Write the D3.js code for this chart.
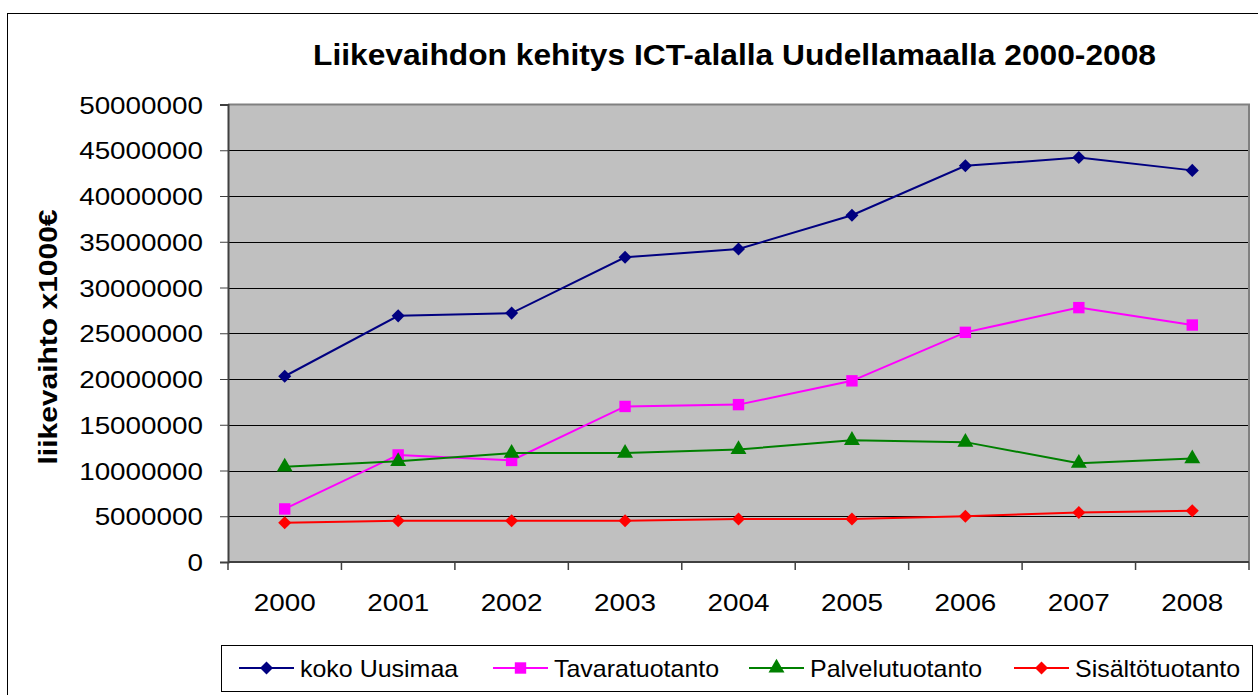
<!DOCTYPE html>
<html>
<head>
<meta charset="utf-8">
<script src="https://cdn.jsdelivr.net/npm/d3@7"></script>
<style>
  body { margin: 0; background: #fff; }
  svg { display: block; font-family: Arial, "Liberation Sans", sans-serif; }
</style>
</head>
<body>
<script>
// data
const years = ["2000", "2001", "2002", "2003", "2004", "2005", "2006", "2007", "2008"];
const kokoUusimaa = [20300000, 26900000, 27200000, 33300000, 34200000, 37900000, 43300000, 44200000, 42800000];
const tavaratuotanto = [5800000, 11700000, 11100000, 17000000, 17200000, 19800000, 25100000, 27800000, 25900000];
const palvelutuotanto = [10400000, 11000000, 11900000, 11900000, 12300000, 13300000, 13100000, 10800000, 11300000];
const sisaltotuotanto = [4300000, 4500000, 4500000, 4500000, 4700000, 4700000, 5000000, 5400000, 5600000];
const seriesNames = ["koko Uusimaa", "Tavaratuotanto", "Palvelutuotanto", "Sisältötuotanto"];
const yTicks = [0, 5000000, 10000000, 15000000, 20000000, 25000000, 30000000, 35000000, 40000000, 45000000, 50000000];

const colors = ["#000080", "#FF00FF", "#008000", "#FF0000"];
// diamond = square turned 45deg
const shapes = [d3.symbolSquare, d3.symbolSquare, d3.symbolTriangle, d3.symbolSquare];
const shapeSize = [85, 130, 110, 85];
const shapeRot = [45, 0, 0, 45];

const series = [kokoUusimaa, tavaratuotanto, palvelutuotanto, sisaltotuotanto].map((vals, i) => ({
  name: seriesNames[i], color: colors[i], shape: shapes[i], size: shapeSize[i], rot: shapeRot[i],
  values: vals.map((v, j) => ({ year: years[j], value: v }))
}));

const W = 1258, H = 695;
const plot = { left: 228, right: 1249, top: 104.5, bottom: 562 };

const svg = d3.select("body").append("svg").attr("width", W).attr("height", H);

// stretch text horizontally the way the original renderer does
function stretch(sel, factor) {
  sel.each(function() {
    const len = this.getComputedTextLength();
    d3.select(this).attr("textLength", len * factor).attr("lengthAdjust", "spacingAndGlyphs");
  });
}

// outer chart border
svg.append("rect").attr("x", 7.5).attr("y", 13.5).attr("width", 1270).attr("height", 700)
  .attr("fill", "#fff").attr("stroke", "#000").attr("stroke-width", 1);

const x = d3.scaleBand().domain(years).range([plot.left, plot.right]);
const y = d3.scaleLinear().domain([0, 50000000]).range([plot.bottom, plot.top]);

// plot background
svg.append("rect").attr("x", plot.left).attr("y", plot.top)
  .attr("width", plot.right - plot.left).attr("height", plot.bottom - plot.top)
  .attr("fill", "#C0C0C0");

// gridlines
svg.append("g").selectAll("line").data(yTicks.filter(t => t > 0 && t < 50000000)).join("line")
  .attr("x1", plot.left).attr("x2", plot.right)
  .attr("y1", d => Math.round(y(d)) + 0.5).attr("y2", d => Math.round(y(d)) + 0.5)
  .attr("stroke", "#000").attr("stroke-width", 1);

// plot border (top/right gray)
svg.append("path")
  .attr("d", `M${plot.left},${plot.top}H${plot.right}V${plot.bottom}`)
  .attr("fill", "none").attr("stroke", "#808080").attr("stroke-width", 2);

// y axis
const yAxis = svg.append("g").attr("transform", `translate(${plot.left},0)`)
  .call(d3.axisLeft(y).tickValues(yTicks).tickFormat(d3.format("d")).tickSize(8).tickPadding(17));
yAxis.select(".domain").attr("stroke", "#404040").attr("stroke-width", 2);
yAxis.selectAll(".tick line").attr("stroke", "#404040");
yAxis.selectAll(".tick text").attr("font-size", 24).attr("fill", "#000")
  .attr("font-family", "Arial, 'Liberation Sans', sans-serif").attr("dy", "0.36em");
stretch(yAxis.selectAll(".tick text"), 1.16);

// x axis: ticks at category boundaries
const xAxisG = svg.append("g").attr("transform", `translate(0,${plot.bottom})`);
xAxisG.append("line").attr("x1", plot.left).attr("x2", plot.right)
  .attr("stroke", "#404040").attr("stroke-width", 2);
const bounds = years.map(yr => x(yr)).concat([plot.right]);
xAxisG.selectAll("line.tk").data(bounds).join("line").attr("class", "tk")
  .attr("x1", d => d).attr("x2", d => d).attr("y1", 0).attr("y2", 8)
  .attr("stroke", "#404040").attr("stroke-width", 1.5);
const xLabels = xAxisG.selectAll("text").data(years).join("text")
  .attr("x", d => x(d) + x.bandwidth() / 2).attr("y", 49)
  .attr("text-anchor", "middle").attr("font-size", 24).text(d => d);
stretch(xLabels, 1.16);

// lines + markers
const line = d3.line().x(d => x(d.year) + x.bandwidth() / 2).y(d => y(d.value));
const sg = svg.append("g").selectAll("g").data(series).join("g");
sg.append("path").attr("d", d => line(d.values)).attr("fill", "none")
  .attr("stroke", d => d.color).attr("stroke-width", 2);
sg.each(function(s) {
  d3.select(this).selectAll("path.m").data(s.values).join("path").attr("class", "m")
    .attr("transform", d => `translate(${x(d.year) + x.bandwidth() / 2},${y(d.value)}) rotate(${s.rot})`)
    .attr("d", d3.symbol().type(s.shape).size(s.size))
    .attr("fill", s.color);
});

// title
const title = svg.append("text").attr("x", 734.5).attr("y", 65).attr("text-anchor", "middle")
  .attr("font-size", 30).attr("font-weight", "bold").text("Liikevaihdon kehitys ICT-alalla Uudellamaalla 2000-2008");
title.attr("textLength", 843).attr("lengthAdjust", "spacingAndGlyphs");

// y axis title
const ytitle = svg.append("text").attr("transform", "translate(57,337) rotate(-90)")
  .attr("text-anchor", "middle").attr("font-size", 26).attr("font-weight", "bold")
  .text("liikevaihto x1000€");
ytitle.attr("textLength", 255).attr("lengthAdjust", "spacingAndGlyphs");

// legend
const legendX = [239, 493, 749, 1014];
svg.append("rect").attr("x", 221.5).attr("y", 645.5).attr("width", 1031).attr("height", 46)
  .attr("fill", "#fff").attr("stroke", "#000").attr("stroke-width", 1);
const lg = svg.append("g").selectAll("g").data(series).join("g")
  .attr("transform", (d, i) => `translate(${legendX[i]},668)`);
lg.append("line").attr("x1", 0).attr("x2", 55).attr("stroke", d => d.color).attr("stroke-width", 2);
lg.append("path").attr("transform", d => `translate(27.5,0) rotate(${d.rot})`)
  .attr("d", d => d3.symbol().type(d.shape).size(d.size)()).attr("fill", d => d.color);
const lgText = lg.append("text").attr("x", 61).attr("y", 8.5).attr("font-size", 24).text(d => d.name);
stretch(lgText, 1.04);
</script>
</body>
</html>
